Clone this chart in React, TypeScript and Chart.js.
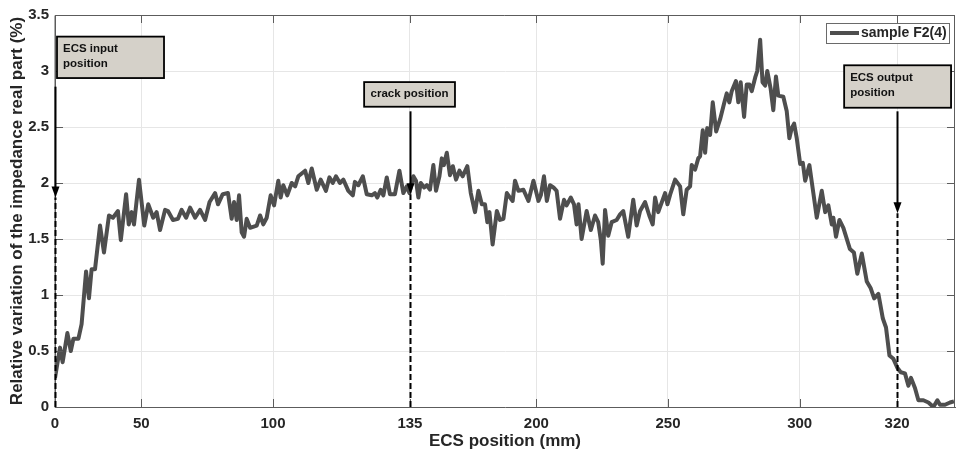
import React, { useEffect, useRef } from "react";
import { Chart, registerables } from "chart.js";

Chart.register(...registerables);

// ---------- data ----------
const seriesLabel = "sample F2(4)";

const positions = [
  17.2, 19.1, 20.1, 21.9, 23.2, 24.2, 26.1, 27.3, 29.0, 30.1, 31.1, 32.4, 34.3, 35.8, 37.7, 39.2, 41.1, 42.2, 44.2, 45.2,
  46.3, 47.2, 49.1, 51.1, 52.6, 54.5, 55.8, 57.1, 59.0, 60.1, 62.0, 63.9, 65.3, 67.0, 68.5, 70.4, 72.3, 74.2, 75.9, 78.0,
  79.1, 80.9, 82.9, 84.3, 85.2, 86.2, 87.1, 88.1, 89.0, 90.0, 91.3, 93.8, 95.1, 96.3, 97.6, 99.1, 100.4, 102.0, 102.9, 103.9,
  105.4, 107.1, 108.4, 109.6, 112.2, 113.4, 114.7, 116.6, 118.1, 120.1, 121.4, 122.7, 123.9, 125.4, 126.7, 128.6, 130.3, 131.1, 132.4, 134.1,
  135.6, 137.5, 138.7, 139.6, 140.9, 141.9, 143.2, 144.4, 146.3, 148.0, 149.5, 150.8, 151.8, 153.3, 154.3, 155.2, 156.1, 157.4, 158.4, 159.6,
  160.9, 161.9, 163.2, 164.1, 164.9, 166.0, 167.2, 168.3, 169.5, 170.8, 172.0, 173.8, 175.1, 176.7, 178.0, 179.3, 180.5, 181.4, 182.2, 183.4,
  185.0, 186.2, 187.5, 188.8, 190.0, 191.0, 191.9, 193.2, 195.1, 197.0, 198.9, 200.8, 201.7, 202.9, 204.0, 205.2, 206.5, 207.7, 209.0, 210.5,
  211.5, 213.1, 214.3, 215.3, 216.0, 217.2, 219.1, 220.7, 222.3, 223.5, 224.5, 225.2, 226.1, 227.3, 228.6, 230.5, 231.8, 233.0, 234.9, 236.8,
  238.1, 239.4, 241.3, 242.9, 244.2, 245.1, 246.3, 248.9, 249.8, 251.0, 252.7, 254.6, 255.8, 257.1, 258.4, 259.0, 260.3, 261.5, 262.2, 263.2,
  264.1, 264.9, 266.0, 267.0, 268.3, 269.8, 271.3, 272.3, 273.3, 274.2, 275.8, 276.7, 277.6, 278.9, 279.9, 280.9, 281.8, 283.1, 283.9, 285.0,
  285.9, 286.9, 287.7, 289.0, 290.0, 291.0, 291.9, 293.8, 295.1, 296.1, 297.0, 297.9, 298.9, 300.2, 301.2, 302.1, 303.7, 305.2, 306.5, 308.4,
  309.7, 310.9, 312.2, 312.8, 313.8, 315.1, 316.6, 319.1, 320.6, 321.9, 323.6, 325.5, 327.0, 328.3, 329.9, 331.6, 332.8, 334.1, 335.6, 337.1,
  338.4, 340.0, 341.3, 342.3, 343.8, 345.1, 347.0, 348.9, 350.8, 352.3, 353.3, 355.2, 357.1, 358.6,
];

const values = [
  0.26, 0.53, 0.40, 0.66, 0.50, 0.61, 0.61, 0.74, 1.21, 0.97, 1.23, 1.23, 1.62, 1.38, 1.71, 1.69, 1.75, 1.49, 1.90, 1.63,
  1.74, 1.63, 2.03, 1.62, 1.81, 1.69, 1.74, 1.58, 1.76, 1.75, 1.67, 1.68, 1.76, 1.69, 1.78, 1.69, 1.76, 1.67, 1.83, 1.91,
  1.81, 1.90, 1.91, 1.68, 1.83, 1.67, 1.89, 1.56, 1.52, 1.68, 1.60, 1.62, 1.71, 1.63, 1.69, 1.89, 1.80, 2.02, 1.87, 1.98,
  1.89, 2.00, 1.97, 2.06, 2.11, 2.00, 2.13, 1.94, 2.03, 1.93, 2.05, 2.00, 2.06, 2.00, 2.03, 1.93, 1.89, 2.01, 1.98, 2.06,
  1.90, 1.89, 1.91, 1.87, 1.94, 1.89, 2.05, 1.90, 1.90, 2.11, 1.91, 1.97, 1.91, 2.06, 2.02, 1.87, 2.00, 1.96, 1.98, 1.94,
  2.16, 1.93, 2.06, 2.22, 2.16, 2.27, 2.07, 2.15, 2.03, 2.11, 2.06, 2.15, 1.91, 1.74, 1.93, 1.81, 1.81, 1.65, 1.74, 1.45,
  1.75, 1.67, 1.68, 1.91, 1.87, 1.84, 2.02, 1.93, 1.94, 1.84, 2.02, 1.84, 1.89, 2.06, 1.84, 1.98, 1.96, 1.93, 1.68, 1.85,
  1.80, 1.87, 1.81, 1.63, 1.81, 1.50, 1.75, 1.58, 1.71, 1.65, 1.49, 1.28, 1.76, 1.53, 1.65, 1.67, 1.72, 1.75, 1.52, 1.85,
  1.62, 1.75, 1.83, 1.71, 1.63, 1.87, 1.74, 1.91, 1.81, 1.91, 2.03, 1.97, 1.72, 1.94, 1.97, 2.16, 2.12, 2.22, 2.24, 2.47,
  2.27, 2.49, 2.43, 2.72, 2.46, 2.57, 2.71, 2.80, 2.72, 2.82, 2.91, 2.72, 2.90, 2.59, 2.88, 2.88, 2.82, 2.94, 3.00, 3.28,
  2.90, 2.87, 3.00, 2.84, 2.65, 2.95, 2.78, 2.77, 2.64, 2.40, 2.49, 2.53, 2.40, 2.17, 2.18, 2.02, 2.16, 1.91, 1.69, 1.93,
  1.74, 1.80, 1.63, 1.69, 1.52, 1.67, 1.60, 1.41, 1.38, 1.19, 1.37, 1.12, 1.06, 0.97, 1.01, 0.79, 0.71, 0.46, 0.43, 0.35,
  0.31, 0.30, 0.19, 0.26, 0.17, 0.06, 0.06, 0.04, 0.00, 0.06, 0.02, 0.02, 0.04, 0.05,
];

const xTickValues = [17.2, 50, 100, 152, 200, 250, 300, 337];
const xTickLabels = ["0", "50", "100", "135", "200", "250", "300", "320"];
const yTickValues = [0, 0.5, 1, 1.5, 2, 2.5, 3, 3.5];
const yTickLabels = ["0", "0.5", "1", "1.5", "2", "2.5", "3", "3.5"];

const xTitle = "ECS position (mm)";
const yTitle = "Relative variation of the impedance real part (%)";

// annotation markers (arrow x, arrow from/to values, box extents in data units)
const markerLines = [["ECS input", "position"], ["crack position"], ["ECS output", "position"]];
const markerX = [17.2, 152, 337];
const markerArrowTop = [2.86, 2.64, 2.64];
const markerArrowTip = [1.87, 1.90, 1.73];
const markerBoxLeft = [17.96, 134.6, 316.9];
const markerBoxRight = [58.6, 169.1, 357.5];
const markerBoxTop = [3.307, 2.901, 3.051];
const markerBoxBottom = [2.937, 2.681, 2.672];
const markerAlign = ["left", "center", "left"];

// ---------- styles ----------
const FONT = "'Liberation Sans', Arial, Helvetica, sans-serif";
const LINE_COLOR = "#4e4e4e";
const AXIS_COLOR = "#5c5c5c";
const TEXT_COLOR = "#262626";

const framePlugin = {
  id: "frame",
  afterDatasetsDraw(chart: any) {
    const { ctx, chartArea, scales } = chart;
    const { left, right, top, bottom } = chartArea;
    const x = scales.x;
    const y = scales.y;
    ctx.save();
    // axes box
    ctx.strokeStyle = AXIS_COLOR;
    ctx.lineWidth = 1;
    ctx.beginPath();
    ctx.moveTo(left, bottom + 0.5);
    ctx.lineTo(left, top + 0.5);
    ctx.lineTo(right - 0.5, top + 0.5);
    ctx.lineTo(right - 0.5, bottom + 0.5);
    ctx.stroke();
    // inner ticks
    const tl = 8;
    ctx.beginPath();
    xTickValues.forEach((v) => {
      const px = Math.round(x.getPixelForValue(v)) + 0.5;
      ctx.moveTo(px, bottom);
      ctx.lineTo(px, bottom - tl);
      ctx.moveTo(px, top);
      ctx.lineTo(px, top + tl);
    });
    yTickValues.forEach((v) => {
      const py = Math.round(y.getPixelForValue(v)) + 0.5;
      ctx.moveTo(left, py);
      ctx.lineTo(left + tl, py);
      ctx.moveTo(right, py);
      ctx.lineTo(right - tl, py);
    });
    ctx.stroke();

    // annotations
    markerX.forEach((mx, i) => {
      const px = Math.round(x.getPixelForValue(mx)) + 0.5;
      const tipY = y.getPixelForValue(markerArrowTip[i]);
      const topY = y.getPixelForValue(markerArrowTop[i]);
      const baseY = y.getPixelForValue(0);
      ctx.strokeStyle = "#000";
      ctx.fillStyle = "#000";
      ctx.lineWidth = 2;
      ctx.setLineDash([6, 3]);
      ctx.beginPath();
      ctx.moveTo(px, baseY);
      ctx.lineTo(px, tipY);
      ctx.stroke();
      ctx.setLineDash([]);
      ctx.beginPath();
      ctx.moveTo(px, topY);
      ctx.lineTo(px, tipY - 8);
      ctx.stroke();
      ctx.beginPath();
      ctx.moveTo(px, tipY);
      ctx.lineTo(px - 4, tipY - 11);
      ctx.lineTo(px + 4, tipY - 11);
      ctx.closePath();
      ctx.fill();

      const bx0 = x.getPixelForValue(markerBoxLeft[i]);
      const bx1 = x.getPixelForValue(markerBoxRight[i]);
      const by0 = y.getPixelForValue(markerBoxTop[i]);
      const by1 = y.getPixelForValue(markerBoxBottom[i]);
      ctx.fillStyle = "#d5d1c9";
      ctx.fillRect(bx0, by0, bx1 - bx0, by1 - by0);
      ctx.strokeStyle = "#000";
      ctx.lineWidth = 1.8;
      ctx.strokeRect(bx0, by0, bx1 - bx0, by1 - by0);
      ctx.fillStyle = "#111";
      ctx.font = `bold 11.5px ${FONT}`;
      ctx.textBaseline = "middle";
      const lines = markerLines[i];
      const lh = 15;
      const cy = (by0 + by1) / 2 - 1 - ((lines.length - 1) * lh) / 2;
      lines.forEach((t, j) => {
        if (markerAlign[i] === "center") {
          ctx.textAlign = "center";
          ctx.fillText(t, (bx0 + bx1) / 2, cy + j * lh);
        } else {
          ctx.textAlign = "left";
          ctx.fillText(t, bx0 + 6, cy + j * lh);
        }
      });
    });

    // legend
    const lx1 = right - 6;
    const lx0 = lx1 - 123;
    const ly0 = top + 8;
    const ly1 = ly0 + 20;
    ctx.fillStyle = "#fff";
    ctx.fillRect(lx0, ly0, lx1 - lx0, ly1 - ly0);
    ctx.strokeStyle = "#6a6a6a";
    ctx.lineWidth = 1;
    ctx.strokeRect(lx0 + 0.5, ly0 + 0.5, lx1 - lx0, ly1 - ly0);
    ctx.strokeStyle = LINE_COLOR;
    ctx.lineWidth = 4;
    ctx.beginPath();
    ctx.moveTo(lx0 + 4, (ly0 + ly1) / 2);
    ctx.lineTo(lx0 + 33, (ly0 + ly1) / 2);
    ctx.stroke();
    ctx.fillStyle = TEXT_COLOR;
    ctx.font = `bold 14px ${FONT}`;
    ctx.textAlign = "left";
    ctx.textBaseline = "middle";
    ctx.fillText(seriesLabel, lx0 + 35, (ly0 + ly1) / 2 + 0.5);
    ctx.restore();
  },
};

export default function App() {
  const canvasRef = useRef<HTMLCanvasElement | null>(null);

  useEffect(() => {
    const canvas = canvasRef.current;
    if (!canvas) return;
    const chart = new Chart(canvas, {
      type: "line",
      data: {
        datasets: [
          {
            label: seriesLabel,
            data: positions.map((p, i) => ({ x: p, y: values[i] })),
            borderColor: LINE_COLOR,
            borderWidth: 4,
            pointRadius: 0,
            tension: 0,
            fill: false,
            borderJoinStyle: "round",
          },
        ],
      },
      options: {
        animation: false,
        responsive: false,
        devicePixelRatio: 1,
        layout: { padding: { top: 10, right: 2, left: 0, bottom: 0 } },
        plugins: {
          legend: { display: false },
          tooltip: { enabled: false },
        },
        scales: {
          x: {
            type: "linear",
            min: 17.2,
            max: 359,
            afterBuildTicks: (scale: any) => {
              scale.ticks = xTickValues.map((v) => ({ value: v }));
            },
            afterFit: (scale: any) => {
              scale.height = 51;
            },
            ticks: {
              autoSkip: false,
              maxRotation: 0,
              padding: 8,
              color: TEXT_COLOR,
              font: { family: FONT, size: 15, weight: "bold" },
              callback: (_v: any, i: number) => xTickLabels[i],
            },
            grid: { color: "#e6e6e6", lineWidth: 1, drawTicks: false },
            border: { display: true, color: AXIS_COLOR, width: 1 },
            title: {
              display: true,
              text: xTitle,
              color: TEXT_COLOR,
              font: { family: FONT, size: 17, weight: "bold" },
              padding: { top: 0, bottom: 6 },
            },
          },
          y: {
            type: "linear",
            min: 0,
            max: 3.5,
            afterBuildTicks: (scale: any) => {
              scale.ticks = yTickValues.map((v) => ({ value: v }));
            },
            afterFit: (scale: any) => {
              scale.width = 55;
            },
            ticks: {
              padding: 6,
              color: TEXT_COLOR,
              font: { family: FONT, size: 15, weight: "bold" },
              callback: (_v: any, i: number) => yTickLabels[i],
            },
            grid: { color: "#e6e6e6", lineWidth: 1, drawTicks: false },
            border: { display: true, color: AXIS_COLOR, width: 1 },
            title: {
              display: true,
              text: yTitle,
              color: TEXT_COLOR,
              font: { family: FONT, size: 17, weight: "bold" },
              padding: { top: 7, bottom: 0 },
            },
          },
        },
      },
      plugins: [framePlugin],
    });
    return () => chart.destroy();
  }, []);

  return (
    <div style={{ position: "fixed", left: 0, top: 0, width: 957, height: 458, background: "#fff" }}>
      <canvas ref={canvasRef} width={957} height={458} style={{ display: "block" }} />
    </div>
  );
}
